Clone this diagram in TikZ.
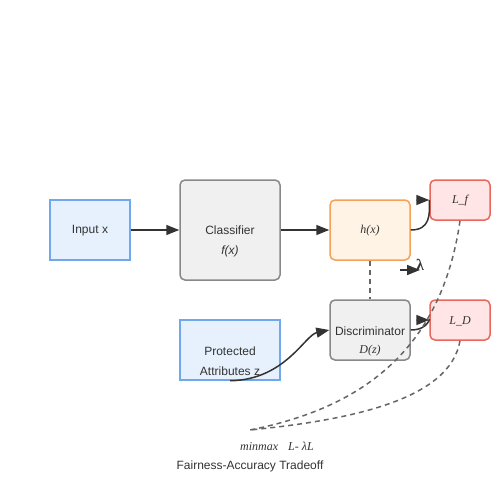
\documentclass[tikz,border=0pt]{standalone}
\usepackage{fontspec}
\setmainfont{Liberation Sans}
\newfontfamily\serifit{Liberation Serif}
\usetikzlibrary{arrows.meta}
\definecolor{inkgray}{HTML}{333333}
\definecolor{blueedge}{HTML}{6FA8EC}
\definecolor{bluefill}{HTML}{E6F1FD}
\definecolor{grayedge}{HTML}{888888}
\definecolor{grayfill}{HTML}{F0F0F0}
\definecolor{orangeedge}{HTML}{F4A25A}
\definecolor{orangefill}{HTML}{FFF3E6}
\definecolor{rededge}{HTML}{E8685E}
\definecolor{redfill}{HTML}{FFE5E5}
\definecolor{dashgray}{HTML}{666666}

\begin{document}
\begin{tikzpicture}[x=1pt,y=-1pt,line width=1.5pt,
	every node/.style={font=\fontsize{12}{14}\selectfont, text=inkgray},
	mathtxt/.style={font=\fontsize{12}{14}\selectfont\serifit\itshape},
	databox/.style={draw=blueedge, fill=bluefill, inner sep=0pt},
	netbox/.style={draw=grayedge, fill=grayfill, rounded corners=5pt, inner sep=0pt},
	reprbox/.style={draw=orangeedge, fill=orangefill, rounded corners=5pt, inner sep=0pt},
	lossbox/.style={draw=rededge, fill=redfill, rounded corners=5pt, inner sep=0pt},
	fwd/.style={draw=inkgray, -{Triangle[length=13pt,width=10pt]}},
	dashline/.style={draw=dashgray, dash pattern=on 5pt off 4pt}]
\path[use as bounding box, fill=white] (0,0) rectangle (500,500);

\node[databox, minimum width=80pt, minimum height=60pt] (inp) at (90,230) {};
\node (inptxt) at (90,231) {Input x};
\node[netbox, minimum width=100pt, minimum height=100pt] (clf) at (230,230) {Classifier};
\node[mathtxt] (clfsub) at (230,251) {\fontspec{Liberation Sans}\itshape f(x)};
\node[reprbox, minimum width=80pt, minimum height=60pt] (hx) at (370,230) {};
\node[mathtxt] (hxtxt) at (370,231) {h(x)};
\node[lossbox, minimum width=60pt, minimum height=40pt] (Lf) at (460,200) {};
\node[mathtxt] (Lftxt) at (460,201) {L\_f};
\node[netbox, minimum width=80pt, minimum height=60pt] (disc) at (370,330) {};
\node (disctxt) at (370,331) {Discriminator};
\node[mathtxt] (discsub) at (370,351) {D(z)};
\node[lossbox, minimum width=60pt, minimum height=40pt] (LD) at (460,320) {};
\node[mathtxt] (LDtxt) at (460,321) {L\_D};
\node[databox, minimum width=100pt, minimum height=60pt] (pa) at (230,350) {};
\node (patxt1) at (230,351) {Protected};
\node (patxt2) at (230,371) {Attributes z};
\coordinate (tradeoff) at (250,430);
\coordinate (lamtail) at (400,270);
\coordinate (lamhead) at (420,270);

\draw[fwd] (inp) -- (clf);
\draw[fwd] (clf) -- (hx);
\draw[fwd] (hx.east) .. controls (430,230) and (430,215) .. (Lf.west) ++(-13,0) -- (Lf.west);
\draw[fwd] (disc.east) .. controls (430,330) and (430,315) .. (LD.west) ++(-13,0) -- (LD.west);
\draw[fwd] (pa.south) .. controls (285,380) and (305,335) .. (disc.west);
\draw[dashline] (hx) -- (disc);
\draw[fwd] (lamtail) -- (lamhead) node[font=\fontsize{16}{18}\selectfont\serifit\bfseries, anchor=center, xshift=0pt, yshift=5pt] (lam) {λ};
\draw[dashline] (Lf.south) .. controls (440,360) and (350,410) .. (tradeoff);
\draw[dashline] (LD.south) .. controls (450,400) and (350,420) .. (tradeoff);

\node[mathtxt] (objective) at (277,446) {minmax\hspace{10pt}L- λL};
\node (caption) at (250,466) {Fairness-Accuracy Tradeoff};
\end{tikzpicture}
\end{document}
